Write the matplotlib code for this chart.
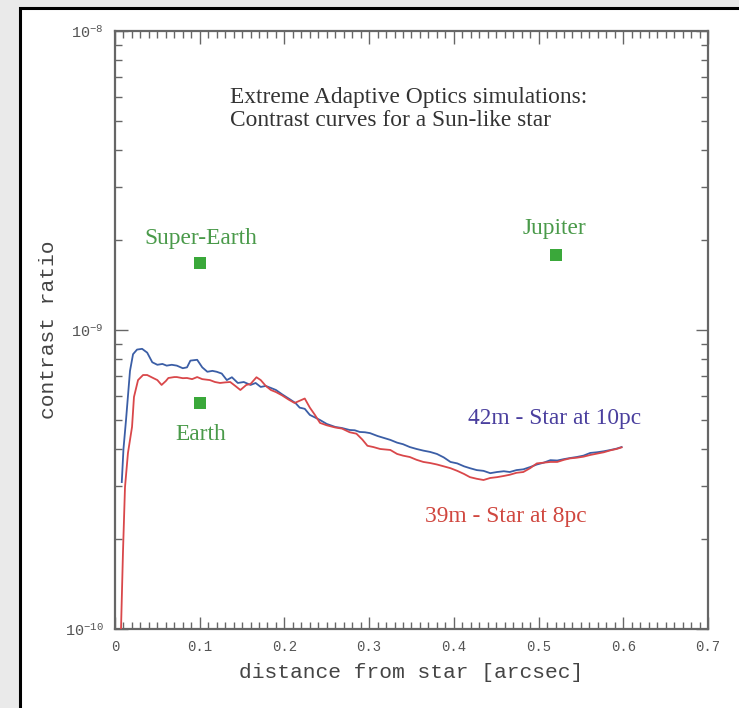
import matplotlib
matplotlib.use("Agg")
import matplotlib.pyplot as plt
from matplotlib.patches import Rectangle
from matplotlib.ticker import LogLocator, MultipleLocator, FuncFormatter, NullFormatter
import numpy as np

# Contrast curves (contrast in units of 1e-10) vs. separation [arcsec]
dist_42m = [0.008, 0.010, 0.013, 0.0177, 0.0213, 0.026, 0.032, 0.038, 0.044, 0.050,
            0.056, 0.061, 0.067, 0.073, 0.080, 0.085, 0.089, 0.097, 0.103, 0.109,
            0.115, 0.120, 0.126, 0.132, 0.138, 0.145, 0.152, 0.160, 0.166, 0.172,
            0.178, 0.184, 0.190, 0.197, 0.207, 0.213, 0.218, 0.224, 0.230, 0.236,
            0.242, 0.250, 0.260, 0.268, 0.277, 0.283, 0.289, 0.295, 0.301, 0.310,
            0.318, 0.325, 0.333, 0.340, 0.348, 0.356, 0.364, 0.372, 0.380, 0.388,
            0.396, 0.404, 0.412, 0.419, 0.427, 0.435, 0.443, 0.451, 0.459, 0.466,
            0.474, 0.482, 0.490, 0.498, 0.506, 0.514, 0.522, 0.530, 0.537, 0.545,
            0.553, 0.561, 0.569, 0.577, 0.585, 0.592, 0.598]
contrast_42m = [3.1, 4.0, 5.0, 7.3, 8.3, 8.6, 8.65, 8.4, 7.8, 7.65,
                7.7, 7.6, 7.65, 7.6, 7.45, 7.5, 7.9, 7.95, 7.5, 7.25,
                7.3, 7.25, 7.15, 6.8, 6.95, 6.65, 6.7, 6.55, 6.65, 6.45,
                6.5, 6.4, 6.3, 6.1, 5.85, 5.7, 5.5, 5.45, 5.2, 5.1,
                5.0, 4.85, 4.74, 4.7, 4.63, 4.62, 4.56, 4.55, 4.52, 4.42,
                4.35, 4.29, 4.2, 4.15, 4.06, 4.0, 3.95, 3.91, 3.85, 3.75,
                3.62, 3.58, 3.5, 3.45, 3.4, 3.38, 3.32, 3.35, 3.37, 3.35,
                3.4, 3.42, 3.48, 3.55, 3.6, 3.67, 3.66, 3.7, 3.73, 3.76,
                3.8, 3.88, 3.9, 3.93, 3.97, 4.01, 4.06]

dist_39m = [0.006, 0.0071, 0.0094, 0.0118, 0.0153, 0.0201, 0.0224, 0.0272, 0.0331, 0.038,
            0.045, 0.050, 0.055, 0.060, 0.063, 0.070, 0.073, 0.080, 0.085, 0.091,
            0.097, 0.103, 0.112, 0.118, 0.124, 0.130, 0.136, 0.142, 0.148, 0.155,
            0.160, 0.167, 0.172, 0.178, 0.184, 0.190, 0.197, 0.205, 0.212, 0.218,
            0.224, 0.230, 0.236, 0.242, 0.250, 0.260, 0.268, 0.277, 0.285, 0.292,
            0.298, 0.305, 0.313, 0.325, 0.333, 0.340, 0.348, 0.356, 0.364, 0.372,
            0.380, 0.388, 0.396, 0.404, 0.412, 0.419, 0.427, 0.435, 0.443, 0.451,
            0.459, 0.466, 0.474, 0.482, 0.490, 0.498, 0.506, 0.514, 0.522, 0.530,
            0.537, 0.545, 0.553, 0.561, 0.569, 0.577, 0.585, 0.592, 0.598]
contrast_39m = [0.9, 1.0, 1.8, 2.98, 3.88, 4.74, 5.97, 6.8, 7.07, 7.07,
                6.91, 6.8, 6.55, 6.75, 6.91, 6.96, 6.96, 6.9, 6.91, 6.85,
                6.96, 6.85, 6.8, 6.7, 6.65, 6.68, 6.7, 6.5, 6.3, 6.55,
                6.6, 6.95, 6.8, 6.5, 6.3, 6.2, 6.05, 5.85, 5.7, 5.8,
                5.9, 5.5, 5.2, 4.89, 4.8, 4.72, 4.68, 4.55, 4.5, 4.3,
                4.1, 4.06, 4.0, 3.97, 3.85, 3.8, 3.76, 3.68, 3.62, 3.59,
                3.55, 3.5, 3.45, 3.38, 3.3, 3.22, 3.18, 3.15, 3.2, 3.22,
                3.25, 3.28, 3.33, 3.35, 3.45, 3.58, 3.6, 3.62, 3.62, 3.68,
                3.72, 3.74, 3.77, 3.82, 3.86, 3.9, 3.96, 4.0, 4.05]

# Planets: separation [arcsec] and contrast
planet_names = ["Super-Earth", "Jupiter", "Earth"]
planet_dist = [0.10, 0.52, 0.10]
planet_contrast = [1.67e-9, 1.78e-9, 5.7e-10]

x_ticks = [0, 0.1, 0.2, 0.3, 0.4, 0.5, 0.6, 0.7]
x_tick_labels = ["0", "0.1", "0.2", "0.3", "0.4", "0.5", "0.6", "0.7"]

W, H = 739, 708
fig = plt.figure(figsize=(W / 100, H / 100), dpi=100)
fig.patch.set_facecolor("#eaeaea")

# white panel with a black frame, behind the axes
panel = Rectangle((20 / W, -0.1), 1.2, 1 - 8 / H + 0.1,
                  transform=fig.transFigure, facecolor="white",
                  edgecolor="black", linewidth=2.2, zorder=-5)
fig.patches.append(panel)

ax = fig.add_axes([115 / W, 1 - 629 / H, (708 - 115) / W, (629 - 31) / H])
ax.set_zorder(2)
ax.set_facecolor("white")

blue = "#3b5ea6"
red = "#d9474a"
green = "#3aa83a"
axis_col = "#666666"
mono = "Liberation Mono"
serif = "Liberation Serif"
fs_txt = 16.8

ax.plot(dist_42m, np.array(contrast_42m) * 1e-10, color=blue, lw=1.3, zorder=3)
ax.plot(dist_39m, np.array(contrast_39m) * 1e-10, color=red, lw=1.3, zorder=3)

ax.plot(planet_dist, planet_contrast, linestyle="none", marker="s",
        markersize=9, color=green, markeredgewidth=0, zorder=4)

ax.set_yscale("log")
ax.set_xlim(0, 0.7)
ax.set_ylim(1e-10, 1e-8)

ax.xaxis.set_minor_locator(MultipleLocator(0.01))
ax.set_xticks(x_ticks)
ax.set_xticklabels(x_tick_labels)
ax.yaxis.set_major_locator(LogLocator(base=10))
ax.yaxis.set_minor_locator(LogLocator(base=10, subs=np.arange(2, 10)))
ax.yaxis.set_minor_formatter(NullFormatter())
ax.yaxis.set_major_formatter(FuncFormatter(
    lambda v, p: r"$\mathregular{10^{%d}}$" % int(round(np.log10(v)))))

ax.tick_params(which="both", direction="in", top=True, right=True,
               color=axis_col, width=1.0)
ax.tick_params(which="major", length=9)
ax.tick_params(which="minor", length=5)
ax.tick_params(axis="x", which="major", pad=8, labelsize=10, labelcolor="#555555")
ax.tick_params(axis="y", which="major", pad=8, labelsize=11, labelcolor="#555555")
for lab in ax.get_xticklabels() + ax.get_yticklabels():
    lab.set_fontfamily(mono)
for sp in ax.spines.values():
    sp.set_color(axis_col)
    sp.set_linewidth(1.6)

ax.set_xlabel("distance from star [arcsec]", fontfamily=mono, fontsize=15.3,
              color="#444444")
ax.set_ylabel("contrast ratio", fontfamily=mono, fontsize=15.3, color="#444444")
ax.xaxis.set_label_coords(0.5, (629 - 663) / 598)
ax.yaxis.set_label_coords((58 - 115) / 593, 0.5)

ax.text((230 - 115) / 593, (629 - 109) / 598,
        "Extreme Adaptive Optics simulations:\nContrast curves for a Sun-like star",
        transform=ax.transAxes, ha="left", va="center", fontfamily=serif,
        fontsize=fs_txt, color="#333333", linespacing=1.15)

label_pos = {"Super-Earth": (0.1015, 2.03e-9),
             "Jupiter": (0.519, 2.18e-9),
             "Earth": (0.101, 4.46e-10)}
for name in planet_names:
    lx, ly = label_pos[name]
    ax.text(lx, ly, name, ha="center", va="center", fontfamily=serif,
            fontsize=fs_txt, color="#4a9a4a")

ax.text(0.519, 5.04e-10, "42m - Star at 10pc", ha="center", va="center",
        fontfamily=serif, fontsize=fs_txt, color="#4a3f9e")
ax.text(0.4616, 2.37e-10, "39m - Star at 8pc", ha="center", va="center",
        fontfamily=serif, fontsize=fs_txt, color="#d0473f")

fig.savefig("out.png", dpi=100, facecolor=fig.get_facecolor())
